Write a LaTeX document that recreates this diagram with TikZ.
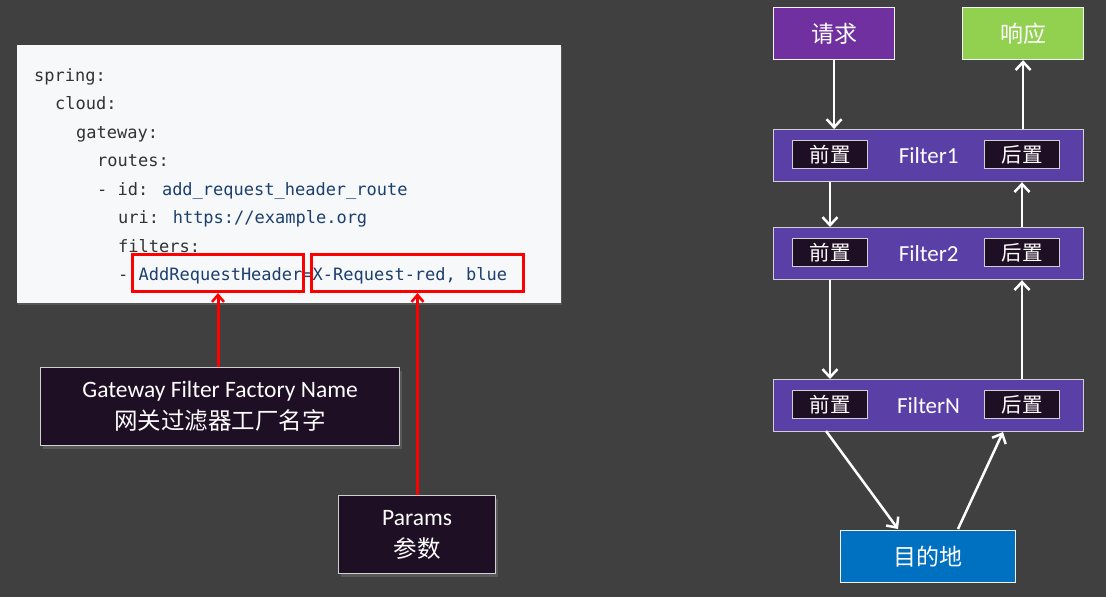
\documentclass[tikz,border=0pt]{standalone}
\usepackage{fontspec}
\setmainfont{Carlito}
\newfontfamily\cjk{Noto Sans CJK SC}
\newfontfamily\codefont{DejaVu Sans Mono}
\usetikzlibrary{arrows.meta,shadows,calc}
\definecolor{bgc}{HTML}{404040}
\definecolor{panel}{HTML}{F6F8FA}
\definecolor{keyc}{HTML}{333333}
\definecolor{valc}{HTML}{1C3F6E}
\definecolor{darkbox}{HTML}{1E0F24}
\definecolor{reqc}{HTML}{7030A0}
\definecolor{resc}{HTML}{92D050}
\definecolor{filc}{HTML}{5A3FA6}
\definecolor{dstc}{HTML}{0070C0}
\definecolor{brd}{HTML}{D0D0D0}
\tikzset{
  code/.style={anchor=base west,inner sep=0pt,font=\codefont\fontsize{17}{17}\selectfont,text=keyc},
  redbox/.style={draw=red,line width=3pt,inner sep=0pt},
  lblbox/.style={draw=brd,line width=1.2pt,fill=darkbox,text=white,inner sep=0pt,align=center,
     font=\fontsize{23.5}{30}\selectfont,
     drop shadow={opacity=0.4,shadow xshift=2pt,shadow yshift=-3pt}},
  colbox/.style={draw=white!90!gray,line width=1.2pt,text=white,inner sep=0pt,
     font=\cjk\fontsize{23}{23}\selectfont,minimum width=121pt,minimum height=52pt},
  filbox/.style={draw=brd,line width=1.2pt,fill=filc,text=white,inner sep=0pt,
     minimum width=310pt,minimum height=52pt,font=\fontsize{23}{23}\selectfont},
  inbox/.style={draw=brd,line width=1pt,fill=darkbox,text=white,inner sep=0pt,
     minimum width=75pt,minimum height=28pt,font=\cjk\fontsize{20.5}{20.5}\selectfont},
  redarr/.style={draw=red,line width=3pt,-{Straight Barb[length=7pt,width=12pt,line width=2.5pt]}},
  wharr/.style={draw=white,line width=2.5pt,-{Straight Barb[length=8pt,width=15pt,line width=2.5pt]}},
}
\begin{document}
\begin{tikzpicture}[x=1pt,y=-1pt]
\fill[bgc] (0,0) rectangle (1106,597);
\useasboundingbox (0,0) rectangle (1106,597);
% code panel
\node[fill=panel,inner sep=0pt,minimum width=544pt,minimum height=258pt,anchor=north west,
  drop shadow={opacity=0.35,shadow xshift=1pt,shadow yshift=-2pt}] (panel) at (17,45) {};
\node[code] (l1) at (34,81) {spring:};
\node[code] (l2) at (55,109.5) {cloud:};
\node[code] (l3) at (76,138) {gateway:};
\node[code] (l4) at (97,166.5) {routes:};
\node[code] (l5) at (97,195) {- id: \textcolor{valc}{add\_request\_header\_route}};
\node[code] (l6) at (118,223.5) {uri: \textcolor{valc}{https://example.org}};
\node[code] (l7) at (118,252) {filters:};
\node[code] (l8) at (118,280.5) {- \textcolor{valc}{AddRequestHeader=X-Request-red, blue}};
% red boxes
\node[redbox,minimum width=171pt,minimum height=37pt,anchor=north west] (rb1) at (131,253) {};
\node[redbox,minimum width=212pt,minimum height=37pt,anchor=north west] (rb2) at (310,253) {};
% label boxes
\node[lblbox,minimum width=359pt,minimum height=78pt,anchor=north west] (lb1) at (40,367)
  {Gateway Filter Factory Name\\[2pt]{\cjk\fontsize{23.5}{30}\selectfont 网关过滤器工厂名字}};
\node[lblbox,minimum width=157pt,minimum height=78pt,anchor=north west] (lb2) at (338,495)
  {Params\\[2pt]{\cjk\fontsize{23.5}{30}\selectfont 参数}};
\draw[redarr] (lb1.north -| rb1.south) -- (rb1.south);
\draw[redarr] (lb2.north -| rb2.south) -- (rb2.south);
% right diagram
\node[colbox,fill=reqc,anchor=north west] (req) at (773,7) {请求};
\node[colbox,fill=resc,anchor=north west] (res) at (962,7) {响应};
\node[filbox,anchor=north west] (f1) at (773,129) {Filter1};
\node[filbox,anchor=north west] (f2) at (773,227) {Filter2};
\node[filbox,anchor=north west] (fn) at (773,379) {FilterN};
\node[inbox,anchor=north west] (pre1) at (792,140) {前置};
\node[inbox,anchor=north west] (post1) at (984,140) {后置};
\node[inbox,anchor=north west] (pre2) at (792,238) {前置};
\node[inbox,anchor=north west] (post2) at (984,238) {后置};
\node[inbox,anchor=north west] (pren) at (792,390) {前置};
\node[inbox,anchor=north west] (postn) at (984,390) {后置};
\node[colbox,fill=dstc,minimum width=175pt,anchor=north west] (dst) at (840,530) {目的地};
\coordinate (dl) at (826,431);
\coordinate (dr) at (1003,432);
\coordinate (tl) at (898,529);
\coordinate (tr) at (958,529);
\draw[wharr] (req.south) -- (req.south |- f1.north);
\draw[wharr] (pre1 |- f1.south) -- (pre1 |- f2.north);
\draw[wharr] (pre2 |- f2.south) -- (pre2 |- fn.north);
\draw[wharr] (dl) -- (tl);
\draw[wharr] (tr) -- (dr);
\draw[wharr] (post2 |- fn.north) -- (post2 |- f2.south);
\draw[wharr] (post1 |- f2.north) -- (post1 |- f1.south);
\draw[wharr] (res.south |- f1.north) -- (res.south);
\end{tikzpicture}
\end{document}
